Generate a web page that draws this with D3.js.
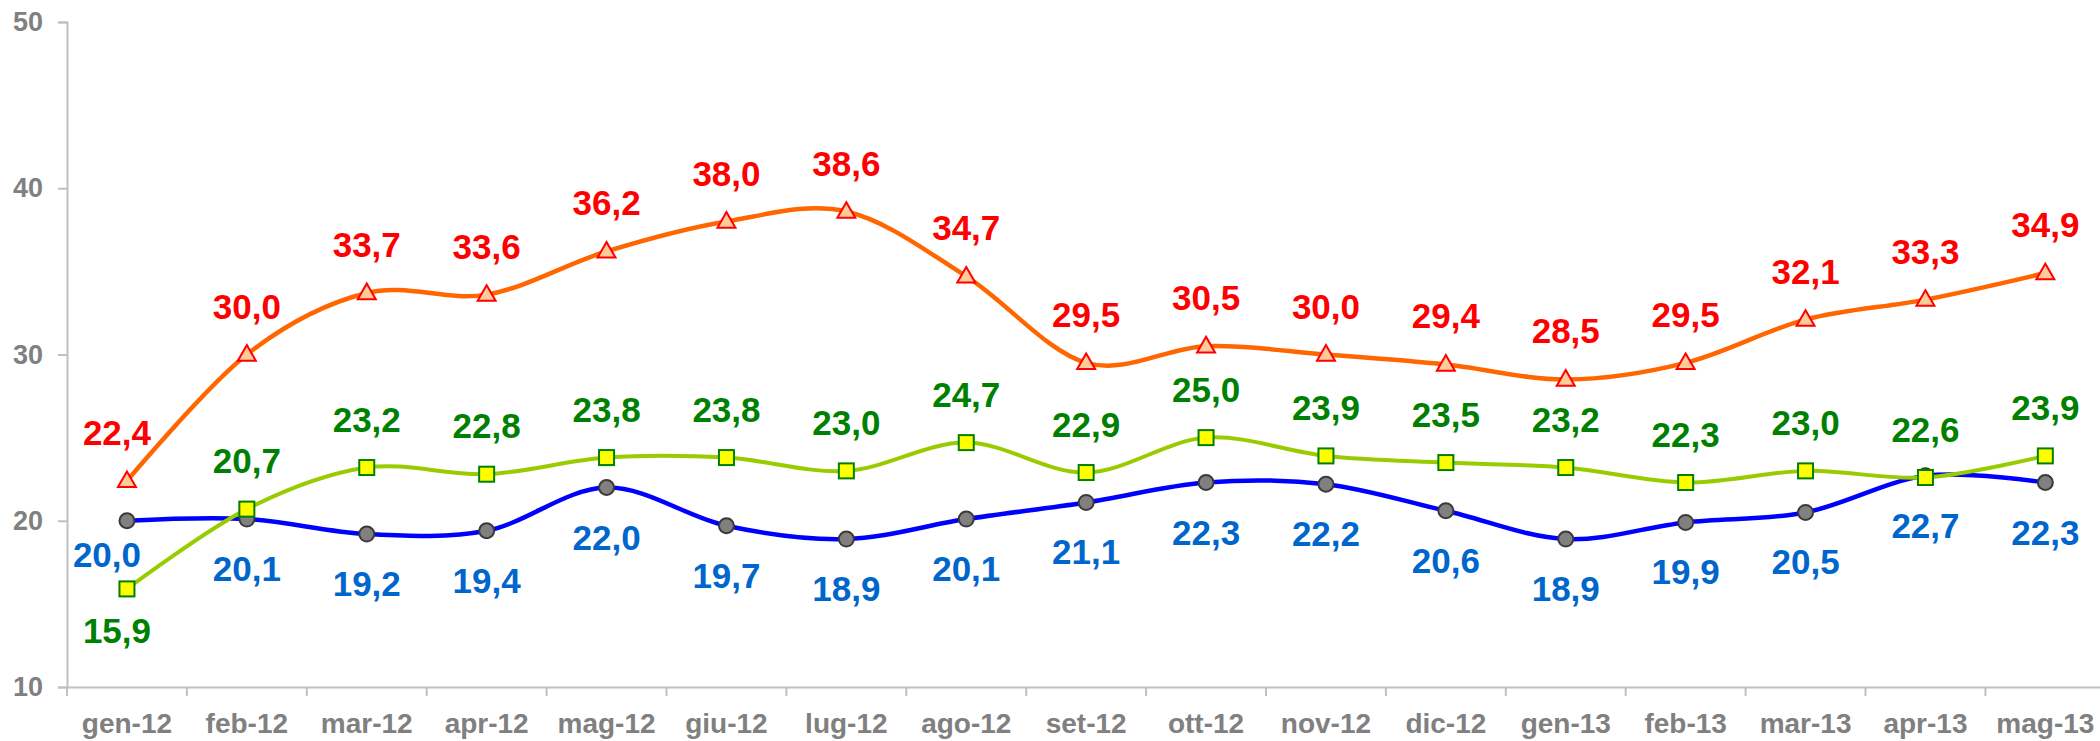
<!DOCTYPE html>
<html>
<head>
<meta charset="utf-8">
<script src="https://cdn.jsdelivr.net/npm/d3@7"></script>
<style>
  html, body { margin: 0; padding: 0; background: #fff; }
  svg { display: block; font-family: "Liberation Sans", Arial, sans-serif; }
</style>
</head>
<body>
<svg id="chart"></svg>
<script>
// Categorie (mesi)
const mesi = ["gen-12", "feb-12", "mar-12", "apr-12", "mag-12", "giu-12", "lug-12", "ago-12", "set-12",
  "ott-12", "nov-12", "dic-12", "gen-13", "feb-13", "mar-13", "apr-13", "mag-13"];

// Serie
const serieRossa = [22.4, 30.0, 33.7, 33.6, 36.2, 38.0, 38.6, 34.7, 29.5, 30.5, 30.0, 29.4, 28.5, 29.5, 32.1, 33.3, 34.9];
const serieVerde = [15.9, 20.7, 23.2, 22.8, 23.8, 23.8, 23.0, 24.7, 22.9, 25.0, 23.9, 23.5, 23.2, 22.3, 23.0, 22.6, 23.9];
const serieBlu = [20.0, 20.1, 19.2, 19.4, 22.0, 19.7, 18.9, 20.1, 21.1, 22.3, 22.2, 20.6, 18.9, 19.9, 20.5, 22.7, 22.3];

// Etichette asse Y
const ticksY = [10, 20, 30, 40, 50];

const width = 2100;
const height = 741;
const margSx = 67;
const margSu = 22;
const baseY = 687;
const bandW = 119.9;

const svg = d3.select("#chart")
  .attr("width", width)
  .attr("height", height);

const x = d3.scaleBand()
  .domain(mesi)
  .range([margSx, margSx + bandW * mesi.length]);

const y = d3.scaleLinear()
  .domain([10, 50])
  .range([baseY, margSu]);

const cx = d => x(d) + x.bandwidth() / 2;

// Assi
const yAxis = d3.axisLeft(y).tickValues(ticksY).tickSize(9).tickPadding(15).tickFormat(d3.format("d"));
const gy = svg.append("g")
  .attr("transform", `translate(${margSx},0)`)
  .call(yAxis);
gy.selectAll("path, line").attr("stroke", "#c0c0c0").attr("stroke-width", 2);
gy.selectAll("text")
  .attr("fill", "#808080")
  .style("font-size", "27px")
  .style("font-weight", "bold");

const xAxis = d3.axisBottom(x).tickSize(0).tickPadding(26);
const gx = svg.append("g")
  .attr("transform", `translate(0,${baseY})`)
  .call(xAxis);
gx.select("path").attr("stroke", "#c0c0c0").attr("stroke-width", 2);
gx.selectAll("text")
  .attr("fill", "#808080")
  .style("font-size", "28px")
  .style("font-weight", "bold");

// tacche tra le categorie
svg.append("g").selectAll("line")
  .data(d3.range(mesi.length + 1))
  .enter()
  .append("line")
  .attr("x1", i => margSx + i * x.step())
  .attr("x2", i => margSx + i * x.step())
  .attr("y1", baseY)
  .attr("y2", baseY + 9)
  .attr("stroke", "#c0c0c0")
  .attr("stroke-width", 2);

const line = d3.line()
  .x((d, i) => cx(mesi[i]))
  .y(d => y(d))
  .curve(d3.curveCardinal.tension(0));

const serie = [
  { valori: serieBlu, linea: "#0000ff", lw: 4.5 },
  { valori: serieVerde, linea: "#99cc00", lw: 4 },
  { valori: serieRossa, linea: "#ff6600", lw: 4.5 }
];

serie.forEach(s => {
  svg.append("path")
    .datum(s.valori)
    .attr("fill", "none")
    .attr("stroke", s.linea)
    .attr("stroke-width", s.lw)
    .attr("d", line);
});

// Marcatori
svg.append("g").selectAll("circle")
  .data(serieBlu)
  .enter()
  .append("circle")
  .attr("cx", (d, i) => cx(mesi[i]))
  .attr("cy", d => y(d))
  .attr("r", 7.5)
  .attr("fill", "#808080")
  .attr("stroke", "#3a3a3a")
  .attr("stroke-width", 2);

svg.append("g").selectAll("rect")
  .data(serieVerde)
  .enter()
  .append("rect")
  .attr("x", (d, i) => cx(mesi[i]) - 7.5)
  .attr("y", d => y(d) - 7.5)
  .attr("width", 15)
  .attr("height", 15)
  .attr("fill", "#ffff00")
  .attr("stroke", "#008000")
  .attr("stroke-width", 2);

const tri = d3.symbol().type(d3.symbolTriangle).size(140);
svg.append("g").selectAll("path")
  .data(serieRossa)
  .enter()
  .append("path")
  .attr("d", tri)
  .attr("transform", (d, i) => `translate(${cx(mesi[i])},${y(d) + 1})`)
  .attr("fill", "#ffcc99")
  .attr("stroke", "#ff0000")
  .attr("stroke-width", 2);

// Etichette dati
const fmt = v => d3.format(".1f")(v).replace(".", ",");

function etichette(valori, colore, sopra, primaDy) {
  svg.append("g").selectAll("text")
    .data(valori)
    .enter()
    .append("text")
    .attr("x", (d, i) => cx(mesi[i]) - (i === 0 ? (sopra ? 10 : 20) : 0))
    .attr("y", (d, i) => {
      // la prima etichetta ha uno spostamento a parte
      if (i === 0 && primaDy !== undefined) return y(d) + primaDy;
      return sopra ? y(d) - 36 : y(d) + 62;
    })
    .attr("text-anchor", "middle")
    .attr("fill", colore)
    .style("font-size", "35px")
    .style("font-weight", "bold")
    .text(fmt);
}

etichette(serieRossa, "#ff0000", true);
etichette(serieVerde, "#008000", true, 54);
etichette(serieBlu, "#0066cc", false, 46);
</script>
</body>
</html>
